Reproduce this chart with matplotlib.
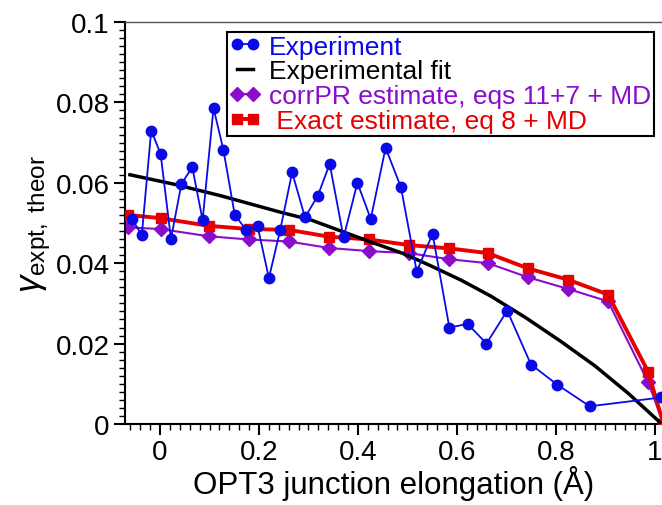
import matplotlib
matplotlib.use('Agg')
import matplotlib.pyplot as plt
from matplotlib.ticker import MultipleLocator, FuncFormatter

plt.rcParams['font.family'] = ['Liberation Sans', 'DejaVu Sans']
plt.rcParams['mathtext.fontset'] = 'custom'
plt.rcParams['mathtext.rm'] = 'Liberation Sans'
plt.rcParams['mathtext.it'] = 'Liberation Sans:italic'

# Experiment
exp_x = [-0.057, -0.037, -0.018, 0.001, 0.022, 0.043, 0.065, 0.086, 0.108, 0.128,
         0.151, 0.174, 0.197, 0.220, 0.243, 0.267, 0.293, 0.319, 0.343, 0.371,
         0.399, 0.426, 0.456, 0.487, 0.519, 0.551, 0.585, 0.622, 0.660, 0.702,
         0.750, 0.803, 0.869, 1.013]
exp_y = [0.0510, 0.0470, 0.0730, 0.0672, 0.0460, 0.0597, 0.0639, 0.0507, 0.0786, 0.0682,
         0.0520, 0.0483, 0.0493, 0.0363, 0.0483, 0.0626, 0.0514, 0.0568, 0.0647, 0.0464,
         0.0600, 0.0510, 0.0687, 0.0589, 0.0379, 0.0473, 0.0240, 0.0249, 0.0200, 0.0282,
         0.0148, 0.0098, 0.0044, 0.0066]

# Experimental fit
fit_x = [-0.061, 0.030, 0.122, 0.243, 0.304, 0.419, 0.494, 0.550, 0.610, 0.669,
         0.740, 0.811, 0.879, 0.947, 1.011]
fit_y = [0.0620, 0.0596, 0.0568, 0.0527, 0.0508, 0.0456, 0.0423, 0.0392, 0.0357, 0.0318,
         0.0264, 0.0205, 0.0145, 0.0076, 0.0004]

# corrPR estimate and exact estimate share the same x grid
est_x = [-0.064, 0.001, 0.098, 0.179, 0.260, 0.341, 0.423, 0.504, 0.584, 0.663,
         0.744, 0.825, 0.906, 0.987, 1.018]
corr_y = [0.0489, 0.0485, 0.0467, 0.0459, 0.0454, 0.0438, 0.0430, 0.0425, 0.0410, 0.0400,
          0.0365, 0.0336, 0.0305, 0.0104, 0.0]
exact_y = [0.0520, 0.0512, 0.0493, 0.0485, 0.0483, 0.0466, 0.0459, 0.0445, 0.0437, 0.0425,
           0.0387, 0.0359, 0.0322, 0.0130, 0.0]

blue = '#0a0ae6'
purple = '#8a0ccc'
red = '#e60000'

fig = plt.figure(figsize=(6.62, 5.06), dpi=100)
ax = fig.add_axes([125 / 662, 81 / 506, 537 / 662, 402 / 506])

ax.plot(est_x, corr_y, color=purple, lw=1.5, marker='D', ms=7, zorder=2,
        label='corrPR estimate, eqs 11+7 + MD')
ax.plot(est_x, exact_y, color=red, lw=2.8, marker='s', ms=7.5, zorder=3,
        label=' Exact estimate, eq 8 + MD')
ax.plot(fit_x, fit_y, color='black', lw=2.5, zorder=4, label='Experimental fit')
ax.plot(exp_x, exp_y, color=blue, lw=1.3, marker='o', ms=7.5, zorder=5,
        label='Experiment')

ax.set_xlim(-0.071, 1.015)
ax.set_ylim(0, 0.1)

ax.xaxis.set_major_locator(MultipleLocator(0.2))
ax.xaxis.set_minor_locator(MultipleLocator(0.02))
ax.yaxis.set_major_locator(MultipleLocator(0.02))
ax.yaxis.set_minor_locator(MultipleLocator(0.002))
fmt = FuncFormatter(lambda v, p: '%g' % round(v, 4))
ax.xaxis.set_major_formatter(fmt)
ax.yaxis.set_major_formatter(fmt)

ax.tick_params(which='major', direction='out', length=8, width=1.5, labelsize=20,
               top=False, right=False, pad=3)
ax.tick_params(which='minor', direction='out', length=4, width=1, top=False, right=False)

for s in ['left', 'bottom']:
    ax.spines[s].set_linewidth(1.5)
ax.spines['top'].set_linewidth(1)
ax.spines['top'].set_color('#555555')
ax.spines['right'].set_visible(False)

ax.set_xlabel('OPT3 junction elongation (Å)', fontsize=22.5, labelpad=0)
ax.set_ylabel(r'$\gamma_{\rm expt,\ theor}$', fontsize=25, labelpad=2)

handles, labels = ax.get_legend_handles_labels()
order = [3, 2, 0, 1]
leg = ax.legend([handles[i] for i in order], [labels[i] for i in order],
                loc='upper left', bbox_to_anchor=((226.7 - 125) / 537, 1 - 10 / 402),
                fontsize=19, frameon=True, fancybox=False, framealpha=1,
                edgecolor='black', borderpad=0.1, labelspacing=0.03,
                handlelength=1.2, handletextpad=0.3, numpoints=2,
                borderaxespad=0)
leg.get_frame().set_linewidth(1.5)
for t, i in zip(leg.get_texts(), order):
    t.set_color(handles[i].get_color())

fig.savefig('out.png', dpi=100)
